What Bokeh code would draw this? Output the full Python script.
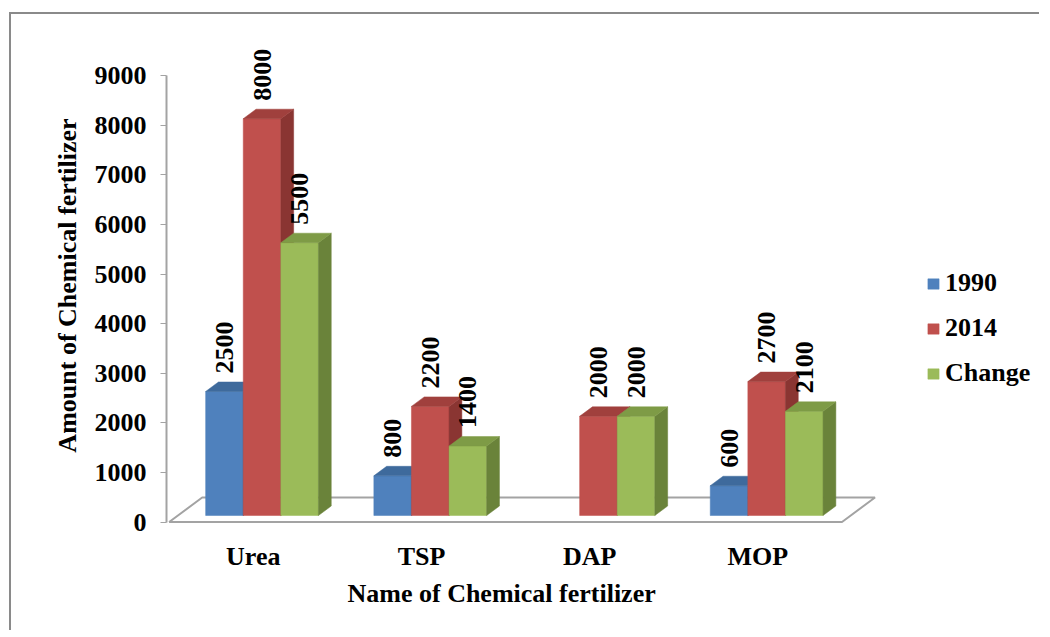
import numpy as np
from bokeh.plotting import figure
from bokeh.models import Range1d, FixedTicker, Legend, LegendItem, Title, ColumnDataSource
from bokeh.core.properties import value
from bokeh.embed import file_html
from bokeh.resources import INLINE

# ---------------- data ----------------
categories = ["Urea", "TSP", "DAP", "MOP"]
series_names = ["1990", "2014", "Change"]
v1990 = [2500, 800, 0, 600]
v2014 = [8000, 2200, 2000, 2700]
vchange = [5500, 1400, 2000, 2100]
y_ticks = [0, 1000, 2000, 3000, 4000, 5000, 6000, 7000, 8000, 9000]

# ---------------- style ----------------
front_colors = ["#4F81BD", "#C0504D", "#9BBB59"]
top_colors = ["#3E6A9C", "#A0403D", "#7E9B46"]
side_colors = ["#365B88", "#8A3532", "#6A833A"]
GRAY = "#a3a3a3"
FONT_NAME = "Liberation Serif"
FS = "26px"

# layout (page pixels)
MARGIN_L, MARGIN_T, BORDER = 9, 12, 2
ORIG_X, ORIG_Y = MARGIN_L + BORDER, MARGIN_T + BORDER
W, H = 1030, 618
FRAME_L, FRAME_R, FRAME_T, FRAME_B = 166, 1035, 40, 530
CAT0_PX, PX_X = 252.8, 168.2      # category 0 centre (front of floor), px per category
ZERO_PX, PX_Y = 521.5, 0.0496     # value 0 at front of floor, px per unit value

BAR_W = 37.6 / PX_X
DX = 33.0 / PX_X                  # depth shift of whole floor (x, data units)
DY = 24.5 / PX_Y                  # depth shift of whole floor (y, data units)
Z0, Z1 = 0.265, 0.653             # bar depth extent in floor depth
LABEL_GAP = 18 / PX_Y

x_range = Range1d((FRAME_L - CAT0_PX) / PX_X, (FRAME_R - CAT0_PX) / PX_X)
y_range = Range1d(-(FRAME_B - ZERO_PX) / PX_Y, (ZERO_PX - FRAME_T) / PX_Y)

p = figure(width=W, height=H, x_range=x_range, y_range=y_range,
           output_backend="svg", toolbar_location=None,
           min_border_left=FRAME_L - ORIG_X, min_border_right=ORIG_X + W - FRAME_R,
           min_border_top=FRAME_T - ORIG_Y, min_border_bottom=ORIG_Y + H - FRAME_B)
p.styles = {"margin-left": f"{MARGIN_L}px", "margin-top": f"{MARGIN_T}px",
            "border-left": f"{BORDER}px solid #8a8a8a", "border-top": f"{BORDER}px solid #8a8a8a"}
p.outline_line_color = None
p.xgrid.visible = False
p.ygrid.visible = False
p.background_fill_color = "white"
p.border_fill_color = "white"

# floor
p.patch([-0.5, 3.5, 3.5 + DX, -0.5 + DX], [0, 0, DY, DY],
        fill_color=None, line_color=GRAY, line_width=2)

# bars
values = [v1990, v2014, vchange]
legend_renderers = []
lab_x, lab_y, lab_t = [], [], []
ddx = (Z1 - Z0) * DX
ddy = (Z1 - Z0) * DY
for j, vals in enumerate(values):
    fl, fr, fb, ft = [], [], [], []
    sxs, sys_, txs, tys = [], [], [], []
    for i, v in enumerate(vals):
        if v <= 0:
            continue
        xl = i + (j - 1.5) * BAR_W + Z0 * DX
        xr = xl + BAR_W
        yb = Z0 * DY
        yt = v + Z0 * DY
        fl.append(xl); fr.append(xr); fb.append(yb); ft.append(yt)
        sxs.append([xr, xr + ddx, xr + ddx, xr]); sys_.append([yb, yb + ddy, yt + ddy, yt])
        txs.append([xl, xr, xr + ddx, xl + ddx]); tys.append([yt, yt, yt + ddy, yt + ddy])
        lab_x.append(xl + BAR_W / 2); lab_y.append(yt + LABEL_GAP); lab_t.append(str(v))
    r = p.quad(left=fl, right=fr, bottom=fb, top=ft, fill_color=front_colors[j],
               line_color=front_colors[j], line_width=0.5)
    p.patches(sxs, sys_, fill_color=side_colors[j], line_color=side_colors[j], line_width=0.5)
    p.patches(txs, tys, fill_color=top_colors[j], line_color=top_colors[j], line_width=0.5)
    legend_renderers.append(r)

# data labels
p.text(x=lab_x, y=lab_y, text=lab_t, angle=np.pi / 2, text_align="left",
       text_baseline="middle", text_font=value(FONT_NAME), text_font_size=FS,
       text_font_style="bold", text_color="black")

# y axis
ya = p.yaxis[0]
ya.ticker = FixedTicker(ticks=y_ticks)
ya.bounds = (y_ticks[0], y_ticks[-1])
ya.axis_line_color = GRAY
ya.axis_line_width = 2
ya.major_tick_line_color = GRAY
ya.major_tick_out = 6
ya.major_tick_in = 0
ya.minor_tick_line_color = None
ya.major_label_standoff = 14
ya.major_label_text_font = FONT_NAME
ya.major_label_text_font_size = FS
ya.major_label_text_font_style = "bold"
ya.major_label_text_color = "black"
ya.axis_label = "Amount of Chemical fertilizer"
ya.axis_label_text_font = FONT_NAME
ya.axis_label_text_font_size = FS
ya.axis_label_text_font_style = "bold"
ya.axis_label_text_color = "black"
ya.axis_label_standoff = 10

# x axis
xa = p.xaxis[0]
xa.ticker = FixedTicker(ticks=list(range(len(categories))))
xa.major_label_overrides = {i: c for i, c in enumerate(categories)}
xa.axis_line_color = None
xa.major_tick_line_color = None
xa.minor_tick_line_color = None
xa.major_label_standoff = 5
xa.major_label_text_font = FONT_NAME
xa.major_label_text_font_size = FS
xa.major_label_text_font_style = "bold"
xa.major_label_text_color = "black"

p.add_layout(Title(text="Name of Chemical fertilizer", align="left", offset=181,
                   text_font=FONT_NAME, text_font_size=FS, text_font_style="bold",
                   text_color="black", standoff=6), "below")

legend = Legend(items=[LegendItem(label=s, renderers=[legend_renderers[j]])
                       for j, s in enumerate(series_names)],
                location=(760, 142), glyph_width=14, glyph_height=13,
                label_standoff=5, spacing=15, padding=0, margin=0,
                border_line_color=None, background_fill_alpha=0,
                label_text_font=FONT_NAME, label_text_font_size=FS,
                label_text_font_style="bold", label_text_color="black")
p.add_layout(legend)

open("out.html", "w").write(file_html(p, INLINE))
